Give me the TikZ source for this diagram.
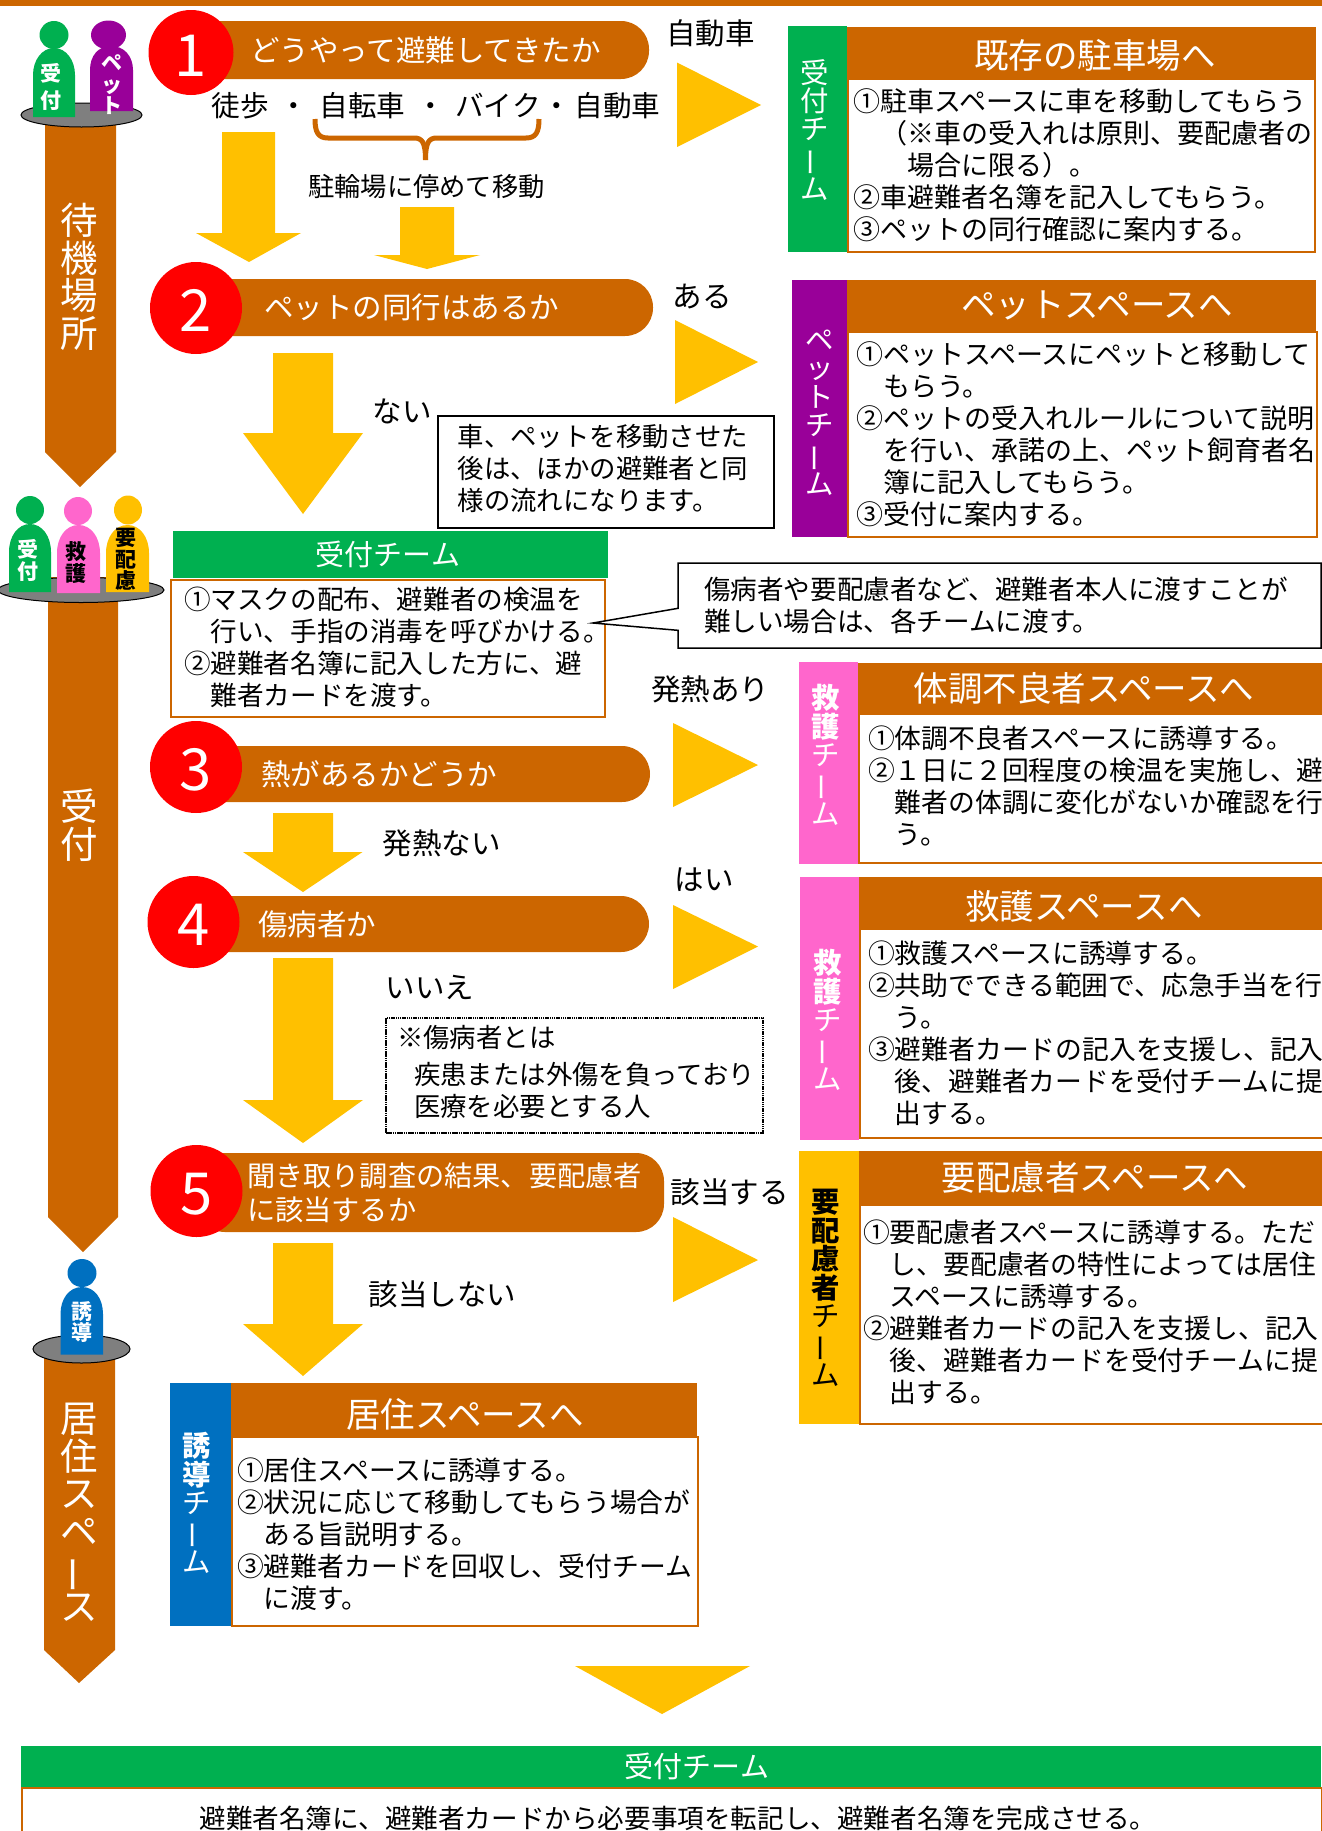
\documentclass[tikz,border=0pt]{standalone}
\usepackage{fontspec}
\setmainfont{Noto Sans CJK JP}
\usetikzlibrary{positioning,shapes.geometric,shapes.callouts}
\definecolor{brownc}{HTML}{CC6600}
\definecolor{flowc}{HTML}{FFC000}
\definecolor{greenc}{HTML}{00B050}
\definecolor{purplec}{HTML}{990099}
\definecolor{pinkc}{HTML}{FF66CC}
\definecolor{bluec}{HTML}{0070C0}
\definecolor{grayc}{HTML}{7F7F7F}
\newcommand{\fs}[1]{\fontsize{#1}{#1}\selectfont}
\newcommand{\ind}{\hspace*{1em}}
\newcommand{\chouon}{\rotatebox[origin=c]{90}{ー}}
\newcommand{\lift}[1]{\rule[-#1]{0pt}{#1}}

\begin{document}
\begin{tikzpicture}[x=1pt,y=-1pt,every node/.style={inner sep=0pt}]
  \tikzstyle{flow}=[fill=flowc]
  \tikzstyle{side}=[fill=brownc]
  \tikzstyle{platform}=[ellipse,draw=black,line width=1pt,fill=grayc]
  \tikzstyle{head}=[ellipse]
  \tikzstyle{badge}=[align=center,font=\bfseries\fontsize{21}{21.5}\selectfont]
  \tikzstyle{sidelabel}=[align=center,text=white,font=\fontsize{37.5}{37.5}\selectfont]
  \tikzstyle{disc}=[circle,fill=red,text=white,text height=47pt,text depth=0pt,font=\fs{58}]
  \tikzstyle{pill}=[rectangle,fill=brownc,rounded corners=28pt]
  \tikzstyle{qtext}=[text=white,align=left,font=\fontsize{29.5}{33}\selectfont]
  \tikzstyle{lbl}=[text height=26pt,text depth=3.5pt,font=\fs{29.5}]
  \tikzstyle{teambar}=[rectangle,anchor=north west]
  \tikzstyle{teamlabel}=[align=center,font=\fontsize{28.4}{28.4}\selectfont]
  \tikzstyle{headbar}=[rectangle,fill=brownc,anchor=north west]
  \tikzstyle{headtitle}=[text=white,font=\fs{34.5}]
  \tikzstyle{bodybox}=[rectangle,draw=brownc,line width=2pt,fill=white,anchor=north west,align=left,font=\fontsize{26.8}{32}\selectfont]
  \tikzstyle{notebox}=[rectangle,draw=black,line width=1.5pt,fill=white,align=left,font=\fontsize{26.4}{32}\selectfont]
  \useasboundingbox (0,0) rectangle (1322,1831);
  \fill[side] (0,0) rectangle (1322,5.7);

  % side arrows and platforms
  \fill[side] (45,115) -- (116,115) -- (116,452) -- (80,487) -- (45,452) -- cycle;
  \fill[side] (48,577) -- (118,577) -- (118,1217) -- (83,1252) -- (48,1217) -- cycle;
  \fill[side] (44,1349) -- (115,1349) -- (115,1650) -- (79,1683) -- (44,1650) -- cycle;
  \node[sidelabel] (wait) at (79,277) {待\\機\\場\\所};
  \node[sidelabel] (recv) at (79,825) {受\\付};
  \node[sidelabel] (live) at (79,1512) {居\\住\\ス\\ペ\\\chouon\\ス};
  \node[platform,minimum width=121pt,minimum height=24pt] (p1) at (81.5,115) {};
  \node[platform,minimum width=166pt,minimum height=25pt] (p2) at (81,590) {};
  \node[platform,minimum width=97pt,minimum height=28pt] (p3) at (81.5,1349) {};

  % people
  \node[head,fill=greenc,minimum width=29pt,minimum height=28pt] (h1) at (54,35) {};
  \fill[greenc] (33,117) -- (33,75) .. controls (33,60) and (42,48) .. (54,48) .. controls (66,48) and (75,60) .. (75,75) -- (75,117) -- cycle;
  \node[badge,text=white,font=\bfseries\fontsize{21}{27}\selectfont] (b1) at (51,86.5) {受\\付};
  \node[head,fill=purplec,minimum width=35pt,minimum height=29pt] (h2) at (108.5,35) {};
  \fill[purplec] (90,111) -- (90,70) .. controls (90,56) and (98,46) .. (111,46) .. controls (124,46) and (133,56) .. (133,70) -- (133,111) -- cycle;
  \node[badge,text=white] (b2) at (112,85) {ペ\\ッ\\ト};
  \node[head,fill=greenc,minimum width=28pt,minimum height=28pt] (h3) at (30,510) {};
  \fill[greenc] (9,592) -- (9,552) .. controls (9,536) and (18,524) .. (30,524) .. controls (42,524) and (51,536) .. (51,552) -- (51,592) -- cycle;
  \node[badge,text=white] (b3) at (28,560.5) {受\\付};
  \node[head,fill=pinkc,minimum width=28pt,minimum height=28pt] (h4) at (78,511) {};
  \fill[pinkc] (57,593) -- (57,553) .. controls (57,537) and (66,525) .. (78.5,525) .. controls (91,525) and (100,537) .. (100,553) -- (100,593) -- cycle;
  \node[badge] (b4) at (75.5,562.5) {救\\護};
  \node[head,fill=flowc,minimum width=28pt,minimum height=29pt] (h5) at (128,510) {};
  \fill[flowc] (106,592) -- (106,553) .. controls (106,537) and (115,525) .. (127.5,525) .. controls (140,525) and (149,537) .. (149,553) -- (149,592) -- cycle;
  \node[badge] (b5) at (126,559.5) {要\\配\\慮};
  \node[head,fill=bluec,minimum width=29pt,minimum height=28pt] (h6) at (82,1273) {};
  \fill[bluec] (60.5,1354.5) -- (60.5,1314) .. controls (60.5,1299) and (69,1287) .. (82,1287) .. controls (95,1287) and (103,1299) .. (103,1314) -- (103,1354.5) -- cycle;
  \node[badge,text=white] (b6) at (82,1322) {誘\\導};

  % questions
  \node[pill,minimum width=458pt,minimum height=58pt] (q1) at (420,50) {};
  \node[disc,minimum size=85pt] (c1) at (191,52.5) {1};
  \node[qtext,right=59pt of q1.west] (q1t) {どうやって避難してきたか};
  \node[pill,minimum width=456pt,minimum height=57pt] (q2) at (425,307.5) {};
  \node[disc,minimum size=92pt] (c2) at (196,308) {2};
  \node[qtext,right=67pt of q2.west] (q2t) {ペットの同行はあるか};
  \node[pill,minimum width=454pt,minimum height=56pt] (q3) at (423,774) {};
  \node[disc,minimum size=92pt] (c3) at (196,767) {3};
  \node[qtext,right=65pt of q3.west] (q3t) {熱があるかどうか};
  \node[pill,minimum width=455pt,minimum height=56pt] (q4) at (421.5,924) {};
  \node[disc,minimum size=92pt] (c4) at (193.5,922) {4};
  \node[qtext,right=64pt of q4.west] (q4t) {傷病者か};
  \node[pill,minimum width=467pt,minimum height=79pt] (q5) at (430.5,1192.5) {};
  \node[disc,minimum size=92pt] (c5) at (196.5,1191) {5};
  \node[qtext,right=50pt of q5.west,font=\fontsize{28.2}{34}\selectfont] (q5t) {聞き取り調査の結果、要配慮者\\に該当するか};

  % ways of coming
  \node[lbl,font=\fs{28.6}] (walk) at (240.5,105) {徒歩};
  \node[lbl,font=\fs{28.6}] (dot1) at (294,105) {・};
  \node[lbl,font=\fs{28.6}] (bike) at (362.5,105) {自転車};
  \node[lbl,font=\fs{28.6}] (dot2) at (431,105) {・};
  \node[lbl,font=\fs{28.6}] (moto) at (498,105) {バイク};
  \node[lbl,font=\fs{28.6}] (dot3) at (557,105) {・};
  \node[lbl,font=\fs{28.6}] (car) at (617.5,105) {自動車};
  \draw[brownc,line width=5pt] (315,119) .. controls (315,132) and (318,138) .. (328,138) -- (414,138) .. controls (422,138) and (425.5,142) .. (425.5,160);
  \draw[brownc,line width=5pt] (539,119) .. controls (539,132) and (536,138) .. (526,138) -- (437,138) .. controls (429,138) and (425.5,142) .. (425.5,160);
  \node[lbl,font=\fs{26.3}] (park) at (426.5,185) {駐輪場に停めて移動};

  % flow arrows
  \fill[flow] (222,132) -- (275,132) -- (275,233) -- (301,233) -- (249,262) -- (196,233) -- (222,233) -- cycle;
  \fill[flow] (400,207) -- (454,207) -- (454,255) -- (480,255) -- (427,269) -- (374,255) -- (400,255) -- cycle;
  \fill[flow] (273,353) -- (333,353) -- (333,433) -- (363,433) -- (303,514) -- (243,433) -- (273,433) -- cycle;
  \fill[flow] (273,813) -- (333,813) -- (333,852) -- (362.5,852) -- (303,892) -- (243,852) -- (273,852) -- cycle;
  \fill[flow] (273,958) -- (333,958) -- (333,1100) -- (363,1100) -- (303,1143) -- (243,1100) -- (273,1100) -- cycle;
  \fill[flow] (273,1243) -- (333,1243) -- (333,1324) -- (363,1324) -- (303,1376) -- (243,1324) -- (273,1324) -- cycle;
  \fill[flow] (575,1666) -- (750,1666) -- (662,1714) -- cycle;
  \fill[flow] (677,62.5) -- (761,105) -- (677,147) -- cycle;
  \fill[flow] (675,320) -- (758,362) -- (675,404) -- cycle;
  \fill[flow] (673,723) -- (758,765) -- (673,807) -- cycle;
  \fill[flow] (673,905) -- (758,946.5) -- (673,989) -- cycle;
  \fill[flow] (673,1217) -- (758,1260) -- (673,1302) -- cycle;

  % branch labels
  \node[lbl] (a1) at (710.5,33) {自動車};
  \node[lbl] (a2) at (702,296) {ある};
  \node[lbl] (a2n) at (402,411) {ない};
  \node[lbl] (a3) at (710,689) {発熱あり};
  \node[lbl] (a3n) at (441.5,843) {発熱ない};
  \node[lbl] (a4) at (704,879) {はい};
  \node[lbl] (a4n) at (430,987) {いいえ};
  \node[lbl] (a5) at (729.5,1192) {該当する};
  \node[lbl] (a5n) at (442.5,1294) {該当しない};

  % notes
  \node[notebox,anchor=north west,inner xsep=20pt,text width=296pt,minimum height=112pt] (n1) at (437,415) {車、ペットを移動させた\\後は、ほかの避難者と同\\様の流れになります。\lift{8.4pt}};
  \node[notebox,anchor=north west,line width=2pt,dash pattern=on 1.5pt off .7pt,inner xsep=11pt,text width=355pt,minimum height=115pt] (n2) at (385,1017) {※傷病者とは\\[5pt]\hspace*{.65em}疾患または外傷を負っており\\\hspace*{.65em}医療を必要とする人\lift{9pt}};

  % reception
  \node[teambar,fill=greenc,minimum width=435pt,minimum height=47pt] (r0) at (173,531) {};
  \node[headtitle,font=\fs{29}] (r0t) at (388,554) {受付チーム};
  \node[bodybox,font=\fontsize{26.6}{32}\selectfont,inner xsep=13pt,text width=408pt,minimum height=137pt] (r1) at (170,579) {①マスクの配布、避難者の検温を\\\ind 行い、手指の消毒を呼びかける。\\②避難者名簿に記入した方に、避\\\ind 難者カードを渡す。\lift{5pt}};
  \node[notebox,rectangle callout,callout absolute pointer={(593,623)},callout pointer width=22pt,inner xsep=26pt,text width=591pt,minimum height=85pt,font=\fontsize{26.6}{32}\selectfont] (n3) at (999.5,605.5) {傷病者や要配慮者など、避難者本人に渡すことが\\難しい場合は、各チームに渡す。};

  % parking
  \node[bodybox,font=\fontsize{27}{32}\selectfont,inner xsep=5pt,text width=457pt,minimum height=173pt] (s1) at (847,78) {①駐車スペースに車を移動してもらう\\\ind（※車の受入れは原則、要配慮者の\\\ind\ind 場合に限る）。\\②車避難者名簿を記入してもらう。\\③ペットの同行確認に案内する。};
  \node[headbar,minimum width=469pt,minimum height=51pt] (s1h) at (847,27) {};
  \node[headtitle] (s1t) at (1095,55) {既存の駐車場へ};
  \node[teambar,fill=greenc,minimum width=59pt,minimum height=226pt] (s1b) at (788,26) {};
  \node[teamlabel,text=white] (s1l) at (815,129.5) {受\\付\\チ\\\chouon\\ム};

  % pets
  \node[bodybox,font=\fontsize{27}{32}\selectfont,inner xsep=8pt,text width=453pt,minimum height=205pt] (s2) at (847,331) {①ペットスペースにペットと移動して\\\ind もらう。\\②ペットの受入れルールについて説明\\\ind を行い、承諾の上、ペット飼育者名\\\ind 簿に記入してもらう。\\③受付に案内する。};
  \node[headbar,minimum width=469pt,minimum height=51pt] (s2h) at (847,280) {};
  \node[headtitle] (s2t) at (1097,305) {ペットスペースへ};
  \node[teambar,fill=purplec,minimum width=55pt,minimum height=257pt] (s2b) at (792,280) {};
  \node[teamlabel,text=white] (s2l) at (819.5,413) {ペ\\ッ\\ト\\チ\\\chouon\\ム};

  % unwell
  \node[bodybox,inner xsep=9pt,text width=450pt,minimum height=149pt] (s3) at (858,713) {①体調不良者スペースに誘導する。\\②１日に２回程度の検温を実施し、避\\\ind 難者の体調に変化がないか確認を行\\\ind う。\lift{6.6pt}};
  \node[headbar,minimum width=468pt,minimum height=50.5pt] (s3h) at (858,662.5) {};
  \node[headtitle] (s3t) at (1084,688) {体調不良者スペースへ};
  \node[teambar,fill=pinkc,minimum width=59pt,minimum height=202pt] (s3b) at (799,662) {};
  \node[teamlabel,text=white] (s3l) at (826,755) {\textbf{救}\\\textbf{護}\\チ\\\chouon\\ム};

  % first aid
  \node[bodybox,inner xsep=8pt,text width=451pt,minimum height=209.5pt] (s4) at (859,927.5) {①救護スペースに誘導する。\\②共助でできる範囲で、応急手当を行\\\ind う。\\③避難者カードの記入を支援し、記入\\\ind 後、避難者カードを受付チームに提\\\ind 出する。};
  \node[headbar,minimum width=467pt,minimum height=50.5pt] (s4h) at (859,877) {};
  \node[headtitle] (s4t) at (1084,906) {救護スペースへ};
  \node[teambar,fill=pinkc,minimum width=59pt,minimum height=262.5pt] (s4b) at (800,877) {};
  \node[teamlabel,text=white] (s4l) at (827.5,1020) {\textbf{救}\\\textbf{護}\\チ\\\chouon\\ム};

  % special care
  \node[bodybox,inner xsep=3pt,text width=461pt,minimum height=219pt] (s5) at (859,1204) {①要配慮者スペースに誘導する。ただ\\\ind し、要配慮者の特性によっては居住\\\ind スペースに誘導する。\\②避難者カードの記入を支援し、記入\\\ind 後、避難者カードを受付チームに提\\\ind 出する。\lift{6.6pt}};
  \node[headbar,minimum width=467pt,minimum height=53pt] (s5h) at (859,1151) {};
  \node[headtitle] (s5t) at (1095,1177) {要配慮者スペースへ};
  \node[teambar,fill=flowc,minimum width=60pt,minimum height=273pt] (s5b) at (799,1151) {};
  \node[teamlabel] (s5l) at (825.5,1288) {\textbf{要}\\\textbf{配}\\\textbf{慮}\\\textbf{者}\\チ\\\chouon\\ム};

  % living space
  \node[bodybox,inner xsep=5pt,text width=456pt,minimum height=189pt,font=\fontsize{26.8}{32.2}\selectfont] (s6) at (231,1435.5) {\rule{0pt}{29pt}①居住スペースに誘導する。\\②状況に応じて移動してもらう場合が\\\ind ある旨説明する。\\③避難者カードを回収し、受付チーム\\\ind に渡す。};
  \node[headbar,minimum width=466pt,minimum height=52.5pt] (s6h) at (231,1383) {};
  \node[headtitle] (s6t) at (465,1414) {居住スペースへ};
  \node[teambar,fill=bluec,minimum width=61pt,minimum height=243pt] (s6b) at (170,1383) {};
  \node[teamlabel,text=white] (s6l) at (197,1503) {\textbf{誘}\\\textbf{導}\\チ\\\chouon\\ム};

  % last step
  \node[bodybox,font=\fontsize{26.6}{32}\selectfont,align=center,text width=1300pt,minimum height=60pt] (e1) at (21,1787) {\hspace*{12pt}避難者名簿に、避難者カードから必要事項を転記し、避難者名簿を完成させる。};
  \node[teambar,fill=greenc,minimum width=1300pt,minimum height=41pt] (e0) at (21,1746) {};
  \node[headtitle,font=\fs{29}] (e0t) at (697,1766) {受付チーム};
\end{tikzpicture}
\end{document}
